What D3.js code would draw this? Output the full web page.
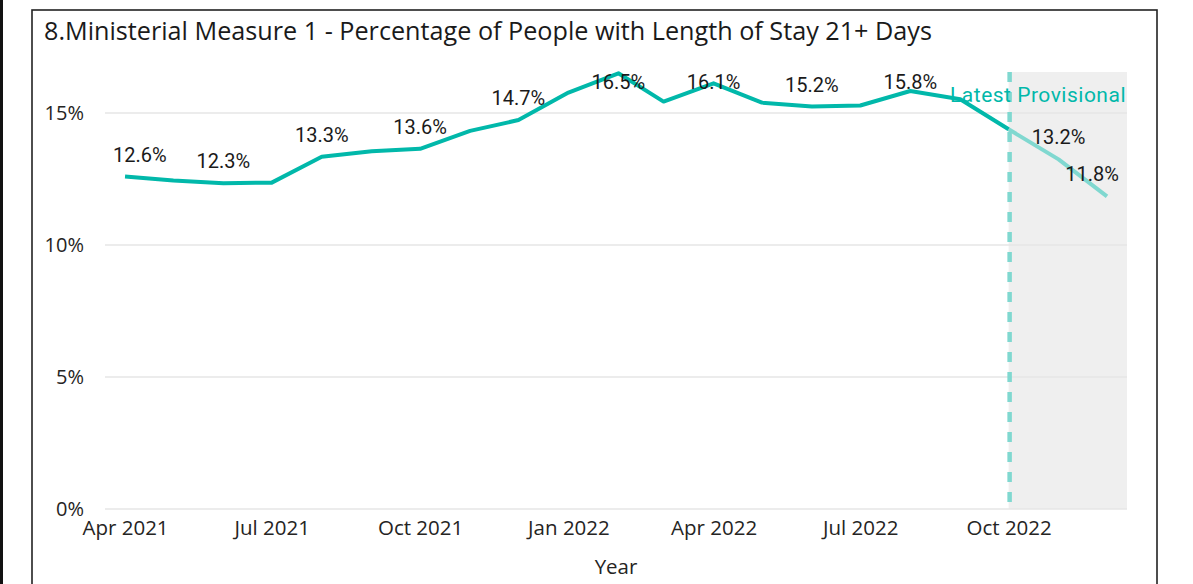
<!DOCTYPE html>
<html>
<head>
<meta charset="utf-8">
<script src="https://cdn.jsdelivr.net/npm/d3@7"></script>
<style>
  html, body { margin: 0; padding: 0; background: #fff; }
  svg { display: block; }
</style>
</head>
<body>
<svg id="chart" width="1193" height="584"></svg>
<script>
// ---- Data ----
const titleText = "8.Ministerial Measure 1 - Percentage of People with Length of Stay 21+ Days";
const months = ["2021-04","2021-05","2021-06","2021-07","2021-08","2021-09","2021-10","2021-11","2021-12",
                "2022-01","2022-02","2022-03","2022-04","2022-05","2022-06","2022-07","2022-08","2022-09",
                "2022-10","2022-11","2022-12"];
const values = [12.59, 12.44, 12.34, 12.36, 13.34, 13.55, 13.64, 14.32, 14.73,
                15.77, 16.50, 15.43, 16.12, 15.39, 15.24, 15.28, 15.83, 15.52,
                14.38, 13.24, 11.84];
const labelledMonths = ["2021-04","2021-06","2021-08","2021-10","2021-12","2022-02","2022-04",
                        "2022-06","2022-08","2022-11","2022-12"];
const provisionalStart = "2022-10";
const provisionalText = "Latest Provisional";
const yTicks = [0, 5, 10, 15];
const xTickMonths = ["2021-04","2021-07","2021-10","2022-01","2022-04","2022-07","2022-10"];
const xAxisTitle = "Year";

// ---- Setup ----
const parse = d3.timeParse("%Y-%m");
const data = months.map((m, i) => ({ date: parse(m), month: m, value: values[i] }));
const svg = d3.select("#chart");

const plot = { left: 105, right: 1127, top: 72, bottom: 509 };
const x = d3.scaleTime()
  .domain([new Date(2021, 2, 19, 14), new Date(2022, 11, 13, 10)])
  .range([plot.left, plot.right]);
const y = d3.scaleLinear().domain([0, 16.55]).range([plot.bottom, plot.top]);

const teal = "#01B8AA";
const tealLight = "#80D8D0";
const tickFont = "'Segoe UI', 'Open Sans', sans-serif";
const labelFont = "Roboto, 'DIN', sans-serif";

// outer frame
svg.append("rect").attr("x", 0).attr("y", 0).attr("width", 3).attr("height", 584).attr("fill", "#111");
svg.append("rect").attr("x", 32).attr("y", 10).attr("width", 1125).attr("height", 600)
  .attr("fill", "none").attr("stroke", "#222").attr("stroke-width", 1.6);

// title
svg.append("text").attr("x", 44).attr("y", 40)
  .attr("font-family", tickFont).attr("font-size", 25.2).attr("fill", "#1a1a1a")
  .text(titleText);

// provisional band
const pStart = x(parse(provisionalStart));
svg.append("rect").attr("x", pStart).attr("y", plot.top)
  .attr("width", plot.right - pStart).attr("height", plot.bottom - plot.top)
  .attr("fill", "#efefef");

// gridlines
svg.append("g").selectAll("line").data(yTicks).join("line")
  .attr("x1", plot.left).attr("x2", plot.right)
  .attr("y1", d => y(d)).attr("y2", d => y(d))
  .attr("stroke", "#e6e6e6").attr("stroke-width", 1.5);

// y axis labels
const yAxis = d3.axisLeft(y).tickValues(yTicks).tickFormat(d => d + "%").tickSize(0).tickPadding(0);
const gy = svg.append("g").attr("transform", "translate(84,0)").call(yAxis);
gy.select(".domain").remove();
gy.selectAll("text").attr("font-family", tickFont).attr("font-size", 20).attr("fill", "#252423");

// x axis labels
const xAxis = d3.axisBottom(x).tickValues(xTickMonths.map(parse))
  .tickFormat(d3.timeFormat("%b %Y")).tickSize(0).tickPadding(0);
const gx = svg.append("g").attr("transform", "translate(0,520)").call(xAxis);
gx.select(".domain").remove();
gx.selectAll("text").attr("font-family", tickFont).attr("font-size", 20.5).attr("fill", "#252423");

// x axis title
svg.append("text").attr("x", 616).attr("y", 574).attr("text-anchor", "middle")
  .attr("font-family", tickFont).attr("font-size", 20.5).attr("fill", "#252423")
  .text(xAxisTitle);

// dashed marker line
svg.append("line").attr("x1", pStart + 1).attr("x2", pStart + 1)
  .attr("y1", plot.top).attr("y2", plot.bottom)
  .attr("stroke", tealLight).attr("stroke-width", 4.5).attr("stroke-dasharray", "10,10");

// line
const line = d3.line().x(d => x(d.date)).y(d => y(d.value));
const pIdx = months.indexOf(provisionalStart);
svg.append("path").datum(data.slice(pIdx))
  .attr("d", line).attr("fill", "none").attr("stroke", tealLight)
  .attr("stroke-width", 4).attr("stroke-linejoin", "round");
svg.append("path").datum(data.slice(0, pIdx + 1))
  .attr("d", line).attr("fill", "none").attr("stroke", teal)
  .attr("stroke-width", 4).attr("stroke-linejoin", "round");

// provisional text
svg.append("text").attr("x", plot.right - 1).attr("y", 102).attr("text-anchor", "end")
  .attr("font-family", labelFont).attr("font-size", 21).attr("letter-spacing", 0.5).attr("fill", teal)
  .text(provisionalText);

// data labels
const fmt = d => d3.format(".1f")(d) + "%";
const lbl = svg.append("g").attr("font-family", labelFont).attr("font-size", 20)
  .attr("fill", "#1a1a1a");
data.filter(d => labelledMonths.includes(d.month)).forEach(d => {
  const t = lbl.append("text").attr("text-anchor", "middle").attr("dominant-baseline", "central").text(fmt(d.value));
  const w = t.node().getComputedTextLength();
  let cx = x(d.date);
  cx = Math.max(plot.left + w / 2 + 8, Math.min(plot.right - w / 2 - 8, cx));
  const cy = Math.max(y(d.value) - 22, 82);
  t.attr("x", cx).attr("y", cy);
});
</script>
</body>
</html>
